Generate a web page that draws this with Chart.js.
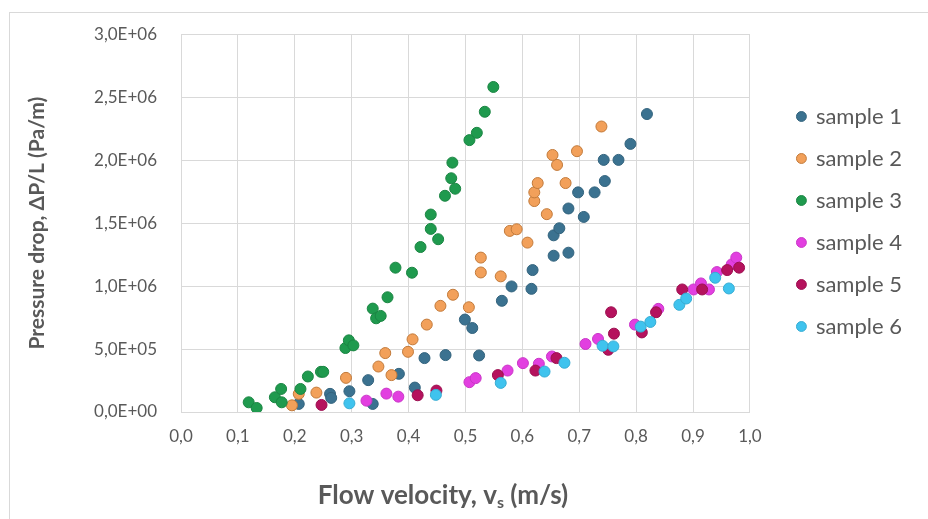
<!DOCTYPE html>
<html>
<head>
<meta charset="utf-8">
<script src="https://cdn.jsdelivr.net/npm/chart.js@4"></script>
<style>
  html, body { margin: 0; padding: 0; background: #fff; }
  #wrap { position: relative; width: 928px; height: 519px; overflow: hidden; }
  #frame { position: absolute; left: 9px; top: 12px; width: 940px; height: 520px;
           border-left: 1px solid #d9d9d9; border-top: 1px solid #d9d9d9; }
  canvas { position: absolute; left: 0; top: 0; }
</style>
</head>
<body>
<div id="wrap">
  <div id="frame"></div>
  <canvas id="chart" width="928" height="519"></canvas>
</div>
<script>
// Flow velocity (m/s) and pressure drop (Pa/m)
var s1x = [0.207, 0.262, 0.264, 0.296, 0.329, 0.337, 0.383, 0.411, 0.428, 0.465, 0.499, 0.512, 0.524, 0.564, 0.581,
           0.616, 0.618, 0.655, 0.681, 0.655, 0.665, 0.681, 0.708, 0.698, 0.727, 0.745, 0.743, 0.769, 0.790, 0.819];
var s1y = [0.064e6, 0.144e6, 0.112e6, 0.165e6, 0.253e6, 0.064e6, 0.303e6, 0.194e6, 0.428e6, 0.452e6, 0.734e6, 0.667e6, 0.449e6, 0.883e6, 0.997e6,
           0.978e6, 1.127e6, 1.241e6, 1.265e6, 1.403e6, 1.459e6, 1.616e6, 1.549e6, 1.744e6, 1.744e6, 1.834e6, 2.002e6, 2.002e6, 2.129e6, 2.366e6];

var s2x = [0.195, 0.207, 0.238, 0.290, 0.347, 0.359, 0.370, 0.399, 0.407, 0.432, 0.456, 0.478, 0.506, 0.527,
           0.527, 0.562, 0.578, 0.590, 0.609, 0.643, 0.621, 0.621, 0.627, 0.676, 0.661, 0.653, 0.696, 0.739];
var s2y = [0.053e6, 0.144e6, 0.154e6, 0.271e6, 0.361e6, 0.468e6, 0.293e6, 0.478e6, 0.577e6, 0.694e6, 0.843e6, 0.931e6, 0.832e6, 1.226e6,
           1.108e6, 1.077e6, 1.438e6, 1.451e6, 1.345e6, 1.571e6, 1.675e6, 1.744e6, 1.818e6, 1.818e6, 1.962e6, 2.041e6, 2.071e6, 2.267e6];

var s3x = [0.119, 0.133, 0.165, 0.176, 0.177, 0.210, 0.223, 0.246, 0.250, 0.289, 0.295, 0.303, 0.337, 0.343, 0.351,
           0.363, 0.377, 0.406, 0.421, 0.439, 0.439, 0.452, 0.464, 0.482, 0.475, 0.477, 0.507, 0.520, 0.534, 0.549];
var s3y = [0.077e6, 0.032e6, 0.117e6, 0.183e6, 0.077e6, 0.183e6, 0.282e6, 0.319e6, 0.319e6, 0.508e6, 0.569e6, 0.529e6, 0.821e6, 0.744e6, 0.763e6,
           0.911e6, 1.146e6, 1.106e6, 1.310e6, 1.454e6, 1.568e6, 1.372e6, 1.717e6, 1.773e6, 1.856e6, 1.980e6, 2.159e6, 2.217e6, 2.384e6, 2.581e6];

var s4x = [0.326, 0.361, 0.382, 0.507, 0.518, 0.574, 0.601, 0.629, 0.652, 0.711, 0.733, 0.798, 0.839, 0.901, 0.914, 0.928, 0.942, 0.968, 0.976];
var s4y = [0.090e6, 0.146e6, 0.122e6, 0.237e6, 0.269e6, 0.329e6, 0.388e6, 0.383e6, 0.441e6, 0.540e6, 0.580e6, 0.694e6, 0.819e6, 0.973e6,
           1.021e6, 0.973e6, 1.111e6, 1.172e6, 1.226e6];

var s5x = [0.247, 0.416, 0.449, 0.557, 0.623, 0.660, 0.756, 0.761, 0.751, 0.810, 0.835, 0.881, 0.916, 0.960, 0.981];
var s5y = [0.056e6, 0.133e6, 0.170e6, 0.293e6, 0.329e6, 0.428e6, 0.792e6, 0.622e6, 0.494e6, 0.632e6, 0.792e6, 0.973e6, 0.973e6, 1.127e6, 1.146e6];

var s6x = [0.296, 0.448, 0.562, 0.639, 0.674, 0.741, 0.760, 0.808, 0.825, 0.876, 0.888, 0.939, 0.963];
var s6y = [0.069e6, 0.136e6, 0.231e6, 0.321e6, 0.391e6, 0.526e6, 0.521e6, 0.678e6, 0.715e6, 0.851e6, 0.901e6, 1.066e6, 0.981e6];

var seriesNames = ['sample 1', 'sample 2', 'sample 3', 'sample 4', 'sample 5', 'sample 6'];
var seriesX = [s1x, s2x, s3x, s4x, s5x, s6x];
var seriesY = [s1y, s2y, s3y, s4y, s5y, s6y];
var fills = ['#3b7290', '#f2a05a', '#1f9a4e', '#e23fe0', '#b5125d', '#3fc3ee'];
var borders = ['#33637d', '#c27a3a', '#1b8543', '#c936c7', '#9c0f50', '#37acd3'];

var xTitle = 'Flow velocity, v';
var xTitleSub = 's';
var xTitleEnd = ' (m/s)';
var yTitle = 'Pressure drop, \u0394P/L (Pa/m)';

var grey = '#595959';
var fontFam = 'Lato, "Open Sans", sans-serif';

function sciLabel(v) {
    if (v === 0) return '0,0E+00';
    var e = Math.floor(Math.log10(v) + 1e-9);
    var m = v / Math.pow(10, e);
    return m.toFixed(1).replace('.', ',') + 'E+' + (e < 10 ? '0' + e : e);
}

// x title with a real subscript "s"
var xTitlePlugin = {
    id: 'xTitlePlugin',
    afterDraw: function (chart) {
        var ctx = chart.ctx;
        var big = 'bold 26px ' + fontFam;
        var small = 'bold 16px ' + fontFam;
        ctx.save();
        ctx.fillStyle = grey;
        ctx.textBaseline = 'alphabetic';
        ctx.font = big;
        var w1 = ctx.measureText(xTitle).width;
        var w3 = ctx.measureText(xTitleEnd).width;
        ctx.font = small;
        var w2 = ctx.measureText(xTitleSub).width;
        var total = w1 + w2 + w3;
        var x = 443 - total / 2;
        var y = 504;
        ctx.font = big;
        ctx.fillText(xTitle, x, y);
        ctx.font = small;
        ctx.fillText(xTitleSub, x + w1, y + 4);
        ctx.font = big;
        ctx.fillText(xTitleEnd, x + w1 + w2, y);
        ctx.restore();
    }
};

// move the legend column so it sits where the reference has it
var legendShift = {
    id: 'legendShift',
    afterLayout: function (chart) {
        chart.legend.top -= 52;
        chart.legend.bottom -= 52;
        chart.legend.left += 28;
        chart.legend.right += 28;
    }
};

var datasets = seriesNames.map(function (name, i) {
    return {
        label: name,
        data: seriesX[i].map(function (x, j) { return { x: x, y: seriesY[i][j] }; }),
        backgroundColor: fills[i],
        borderColor: borders[i],
        borderWidth: 1,
        pointRadius: 5.5,
        pointHoverRadius: 5.5,
        order: seriesNames.length - i
    };
});

var ctx = document.getElementById('chart').getContext('2d');
var scatterChart = new Chart(ctx, {
    type: 'scatter',
    data: { datasets: datasets },
    options: {
        responsive: false,
        animation: false,
        layout: { padding: { left: 25, top: 28, right: 44, bottom: 0 } },
        plugins: {
            tooltip: { enabled: false },
            legend: {
                position: 'right',
                reverse: true,
                labels: {
                    usePointStyle: true,
                    pointStyle: 'circle',
                    boxWidth: 7,
                    boxHeight: 7,
                    padding: 20,
                    color: grey,
                    font: { family: fontFam, size: 22 }
                }
            }
        },
        scales: {
            x: {
                type: 'linear',
                min: 0,
                max: 1,
                ticks: {
                    stepSize: 0.1,
                    padding: 14,
                    color: grey,
                    font: { family: fontFam, size: 17 },
                    callback: function (v) { return v.toFixed(1).replace('.', ','); }
                },
                grid: { color: '#d9d9d9', drawTicks: false },
                border: { color: '#d9d9d9' },
                afterFit: function (scale) { scale.height = 519 - 412; }
            },
            y: {
                type: 'linear',
                min: 0,
                max: 3e6,
                ticks: {
                    stepSize: 5e5,
                    padding: 24,
                    color: grey,
                    font: { family: fontFam, size: 17 },
                    callback: function (v) { return sciLabel(v); }
                },
                grid: { color: '#d9d9d9', drawTicks: false },
                border: { color: '#d9d9d9' },
                title: {
                    display: true,
                    text: yTitle,
                    color: grey,
                    padding: { top: 0, bottom: 0 },
                    font: { family: fontFam, size: 21, weight: 'bold' }
                },
                afterFit: function (scale) { scale.width = 181 - 25; }
            }
        }
    },
    plugins: [xTitlePlugin, legendShift]
});
</script>
</body>
</html>
